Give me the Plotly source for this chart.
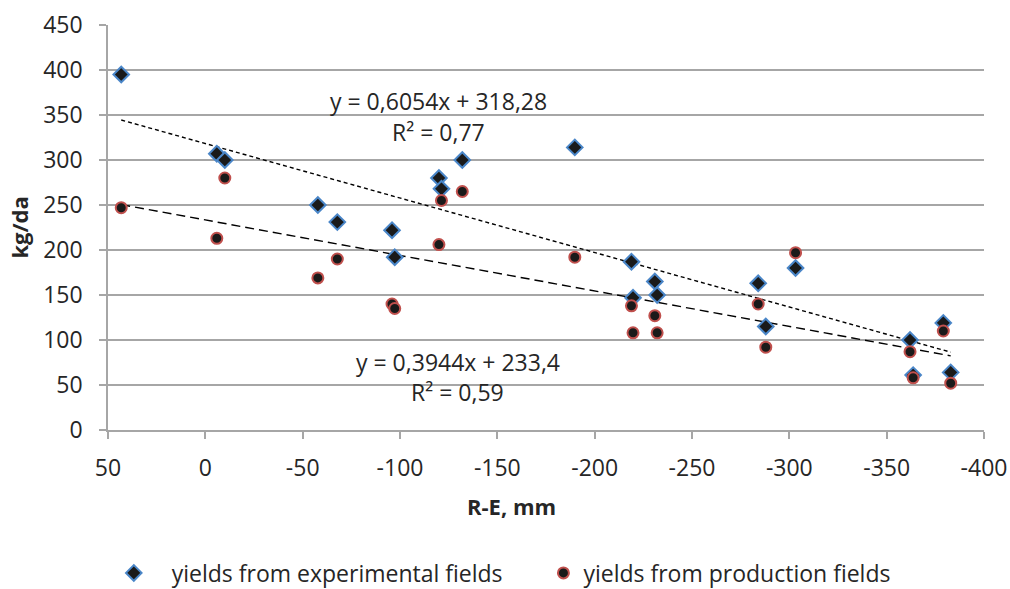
import plotly.graph_objects as go
import numpy as np

# R-E values (mm), shared by both series
re_mm = [43.2, -5.9, -10.0, -57.8, -67.8, -95.9, -97.3, -120.0, -121.3, -132.0,
         -189.8, -218.9, -219.7, -230.9, -232.1, -284.0, -287.9, -303.2,
         -362.0, -363.6, -379.1, -382.9]

# experimental-field yields (kg/da)
yield_exp = [395, 307, 300, 250, 231, 222, 192, 280, 268, 300,
             314, 187, 147, 165, 150, 163, 115, 180,
             100, 61, 119, 64]

# production-field yields (kg/da)
yield_prod = [247, 213, 280, 169, 190, 140, 135, 206, 255, 265,
              192, 138, 108, 127, 108, 140, 92, 197,
              87, 58, 110, 52]

# trendline coefficients (slope, intercept) and labels
trend_exp = [0.6054, 318.28]
trend_prod = [0.3944, 233.4]
label_exp = ["y = 0,6054x + 318,28", "R² = 0,77"]
label_prod = ["y = 0,3944x + 233,4", "R² = 0,59"]

series_names = ["yields from experimental fields", "yields from production fields"]
x_title = "R-E, mm"
y_title = "kg/da"

x_ticks = [50, 0, -50, -100, -150, -200, -250, -300, -350, -400]
y_ticks = [0, 50, 100, 150, 200, 250, 300, 350, 400, 450]

FONT = "Open Sans"
TXT = "#262626"
GRID = "#A6A6A6"
FS = 23
NB = "\u00a0"

xline = np.array([max(re_mm), min(re_mm)])

fig = go.Figure()

fig.add_trace(go.Scatter(
    x=xline, y=trend_exp[0] * xline + trend_exp[1], mode="lines",
    line=dict(color="#000000", width=1.4, dash="4px,3px"),
    showlegend=False, hoverinfo="skip"))
fig.add_trace(go.Scatter(
    x=xline, y=trend_prod[0] * xline + trend_prod[1], mode="lines",
    line=dict(color="#000000", width=1.4, dash="9px,5px"),
    showlegend=False, hoverinfo="skip"))

fig.add_trace(go.Scatter(
    x=re_mm, y=yield_exp, mode="markers",
    name=NB * 3 + series_names[0] + NB * 6,
    marker=dict(symbol="diamond", size=12, color="#1a1a1a",
                line=dict(color="#4A86C8", width=2))))
fig.add_trace(go.Scatter(
    x=re_mm, y=yield_prod, mode="markers", name=series_names[1],
    marker=dict(symbol="circle", size=11, color="#1a1a1a",
                line=dict(color="#C0504D", width=2))))

# trendline equation labels
ann_font = dict(size=FS, color=TXT, family=FONT)
fig.add_annotation(x=-119.6, y=366, xref="x", yref="y", text=label_exp[0],
                   showarrow=False, font=ann_font)
fig.add_annotation(x=-119.6, y=331, xref="x", yref="y", text=label_exp[1],
                   showarrow=False, font=ann_font)
fig.add_annotation(x=-129.6, y=76, xref="x", yref="y", text=label_prod[0],
                   showarrow=False, font=ann_font)
fig.add_annotation(x=-129.6, y=42, xref="x", yref="y", text=label_prod[1],
                   showarrow=False, font=ann_font)

# axis titles
fig.add_annotation(x=0.461, y=-0.1877, xref="paper", yref="paper", text="<b>" + x_title + "</b>",
                   showarrow=False, xanchor="center", yanchor="middle",
                   font=dict(size=22, color=TXT, family=FONT))
fig.add_annotation(x=-0.1027, y=0.5, xref="paper", yref="paper", text="<b>" + y_title + "</b>",
                   showarrow=False, xanchor="center", yanchor="middle", textangle=-90,
                   font=dict(size=22, color=TXT, family=FONT))

fig.update_layout(
    width=1010, height=589,
    margin=dict(l=108, r=26, t=25, b=159, autoexpand=False),
    paper_bgcolor="white", plot_bgcolor="white",
    font=dict(family=FONT, color=TXT, size=FS),
    showlegend=True,
    legend=dict(orientation="h", x=0.453, xanchor="center", y=-0.353, yanchor="middle",
                font=dict(size=FS, color=TXT, family=FONT), itemwidth=30),
    xaxis=dict(range=[50, -400], tickmode="array", tickvals=x_ticks,
               ticktext=[str(v) for v in x_ticks], automargin=False,
               showgrid=False, zeroline=False,
               showline=True, linecolor=GRID, linewidth=1.5,
               ticks="outside", ticklen=7, tickcolor=GRID, tickwidth=1.5,
               ticklabelstandoff=10,
               tickfont=dict(size=FS, color=TXT, family=FONT)),
    yaxis=dict(range=[0, 450], tickmode="array", tickvals=y_ticks, automargin=False,
               showgrid=True, gridcolor=GRID, gridwidth=1.5, zeroline=False,
               showline=True, linecolor=GRID, linewidth=1.5,
               ticks="outside", ticklen=7, tickcolor=GRID, tickwidth=1.5,
               ticklabelstandoff=12,
               tickfont=dict(size=FS, color=TXT, family=FONT)),
)

fig.write_html("out.html", config={"displayModeBar": False},
               post_script="document.body.style.margin='0';document.body.style.overflow='hidden';")
